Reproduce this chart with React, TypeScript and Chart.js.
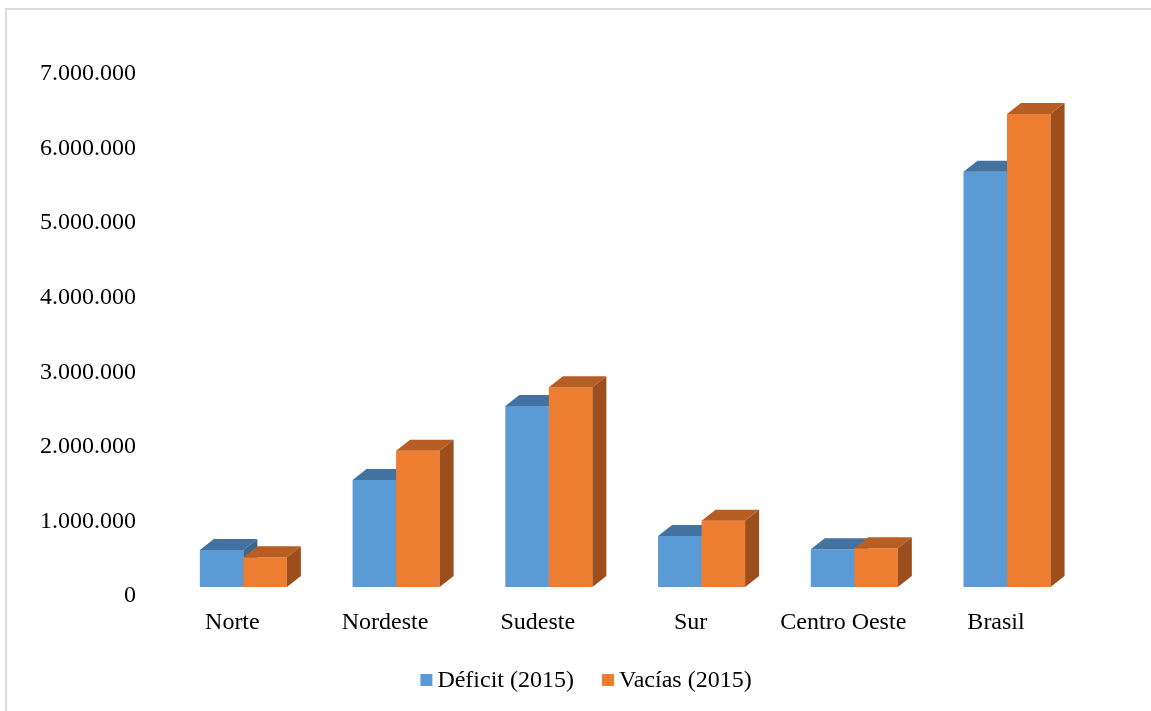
import { useEffect, useRef } from 'react';
import { Chart, registerables } from 'chart.js';

Chart.register(...registerables);

// Regions and housing figures (2015)
const regions = ['Norte', 'Nordeste', 'Sudeste', 'Sur', 'Centro Oeste', 'Brasil'];
const deficit2015 = [496000, 1435000, 2427000, 684000, 505000, 5570000];
const vacias2015 = [398000, 1828000, 2678000, 889000, 519000, 6343000];
const seriesNames = ['Déficit (2015)', 'Vacías (2015)'];
const yTickValues = [0, 1000000, 2000000, 3000000, 4000000, 5000000, 6000000, 7000000];

const frontColors = ['#5B9BD5', '#ED7D31'];
const topColors = ['#44729F', '#B65E23'];
const sideColors = ['#3B6791', '#9C4F1D'];

const FONT_FAMILY = '"Liberation Serif", "Times New Roman", serif';
const DEPTH_X = 14;
const DEPTH_Y = 11;

const fmtThousands = (v: number) => String(Math.round(v)).replace(/\B(?=(\d{3})+(?!\d))/g, '.');

// Draws the series left to right so the right-hand box covers the hidden
// side of its neighbour, adding a top and a right face to every column.
const bar3dPlugin = {
  id: 'bar3d',
  beforeDatasetsDraw(chart: any) {
    const ctx = chart.ctx as CanvasRenderingContext2D;
    chart.data.datasets.forEach((_ds: any, idx: number) => {
      const meta = chart.getDatasetMeta(idx);
      if (!meta.visible) return;
      meta.controller.draw();
      meta.data.forEach((el: any) => {
        const { x, y, base, width } = el.getProps(['x', 'y', 'base', 'width'], true);
        const l = x - width / 2;
        const r = x + width / 2;
        ctx.save();
        ctx.fillStyle = topColors[idx];
        ctx.beginPath();
        ctx.moveTo(l, y);
        ctx.lineTo(r, y);
        ctx.lineTo(r + DEPTH_X, y - DEPTH_Y);
        ctx.lineTo(l + DEPTH_X, y - DEPTH_Y);
        ctx.closePath();
        ctx.fill();
        ctx.fillStyle = sideColors[idx];
        ctx.beginPath();
        ctx.moveTo(r, y);
        ctx.lineTo(r + DEPTH_X, y - DEPTH_Y);
        ctx.lineTo(r + DEPTH_X, base - DEPTH_Y);
        ctx.lineTo(r, base);
        ctx.closePath();
        ctx.fill();
        ctx.restore();
      });
    });
    return false;
  },
};

// Legend row under the chart: small square swatch followed by the series name.
const legendPlugin = {
  id: 'legendRow',
  afterDraw(chart: any) {
    const ctx = chart.ctx as CanvasRenderingContext2D;
    const box = 12;
    const gap = 5;
    const itemGap = 28;
    const centerX = 586;
    const midY = 680;
    ctx.save();
    ctx.font = `24px ${FONT_FAMILY}`;
    ctx.textBaseline = 'middle';
    ctx.textAlign = 'left';
    const widths = seriesNames.map((n) => ctx.measureText(n).width);
    const total = widths.reduce((a, w) => a + box + gap + w, 0) + itemGap * (seriesNames.length - 1);
    let cx = centerX - total / 2;
    seriesNames.forEach((name, i) => {
      ctx.fillStyle = frontColors[i];
      ctx.fillRect(cx, midY - box / 2, box, box);
      ctx.fillStyle = '#000';
      ctx.fillText(name, cx + box + gap, midY + 1);
      cx += box + gap + widths[i] + itemGap;
    });
    ctx.restore();
  },
};

export default function App() {
  const canvasRef = useRef<HTMLCanvasElement | null>(null);

  useEffect(() => {
    if (!canvasRef.current) return;
    const chart = new Chart(canvasRef.current, {
      type: 'bar',
      data: {
        labels: regions,
        datasets: [
          {
            label: seriesNames[0],
            data: deficit2015,
            backgroundColor: frontColors[0],
            borderWidth: 0,
          },
          {
            label: seriesNames[1],
            data: vacias2015,
            backgroundColor: frontColors[1],
            borderWidth: 0,
          },
        ],
      },
      options: {
        responsive: false,
        animation: false,
        devicePixelRatio: 1,
        layout: { padding: { top: 65, left: 0, right: 67.6, bottom: 0 } },
        datasets: {
          bar: { categoryPercentage: 0.57, barPercentage: 1.0 },
        },
        plugins: {
          legend: { display: false },
          tooltip: { enabled: false },
          title: { display: false },
        },
        scales: {
          x: {
            grid: { display: false, drawTicks: false },
            border: { display: false },
            ticks: {
              color: '#000',
              padding: 21,
              labelOffset: -11,
              maxRotation: 0,
              autoSkip: false,
              font: { family: FONT_FAMILY, size: 24 },
            },
            afterFit(scale: any) {
              scale.height = 124;
            },
          },
          y: {
            min: 0,
            max: 7000000,
            grid: { display: false, drawTicks: false },
            border: { display: false },
            afterBuildTicks(scale: any) {
              scale.ticks = yTickValues.map((v) => ({ value: v }));
            },
            ticks: {
              color: '#000',
              padding: 31,
              labelOffset: 9,
              font: { family: FONT_FAMILY, size: 24 },
              callback: (v: any) => fmtThousands(Number(v)),
            },
            afterFit(scale: any) {
              scale.width = 167;
            },
          },
        },
      },
      plugins: [bar3dPlugin, legendPlugin],
    });
    return () => chart.destroy();
  }, []);

  return (
    <div
      style={{
        position: 'absolute',
        left: 0,
        top: 0,
        width: 1151,
        height: 711,
        overflow: 'hidden',
        background: '#fff',
      }}
    >
      <div
        style={{
          position: 'absolute',
          left: 5,
          top: 8,
          width: 1300,
          height: 900,
          border: '2px solid #dcdcdc',
          boxSizing: 'border-box',
        }}
      />
      <canvas
        ref={canvasRef}
        width={1151}
        height={711}
        style={{ position: 'absolute', left: 0, top: 0, display: 'block' }}
      />
    </div>
  );
}
